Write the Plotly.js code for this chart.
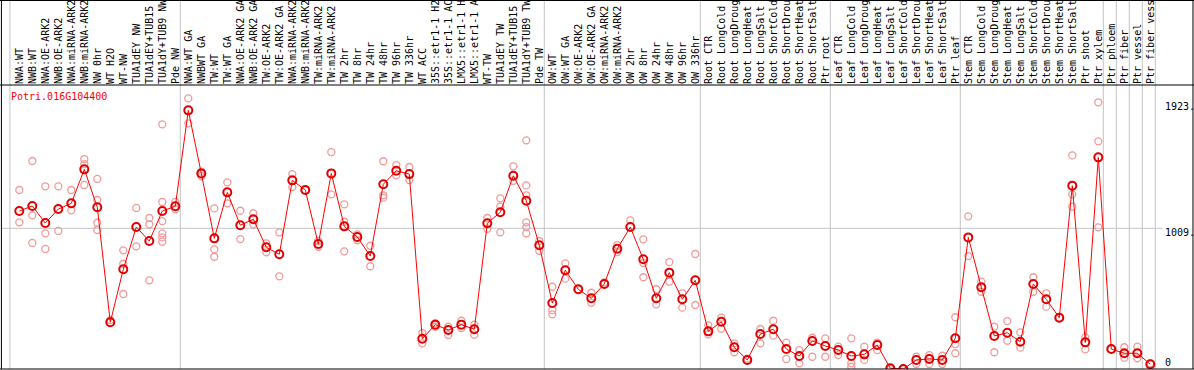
<!DOCTYPE html>
<html>
<head>
<meta charset="utf-8">
<script src="https://cdn.plot.ly/plotly-3.0.1.min.js"></script>
<style>html,body{margin:0;padding:0;background:#fff;}#chart{width:1194px;height:370px;}</style>
</head>
<body>
<div id="chart"></div>
<script>
// ---- data ----
const geneName = "Potri.016G104400";

const categories = [
  "NWA:WT","NWB:WT","NWA:OE-ARK2","NWB:OE-ARK2","NWA:miRNA-ARK2","NWB:miRNA-ARK2","NW 0hr","WT H2O","WT-NW","TUA1dEY NW","TUA1dEY+TUB15","TUA1dY+TUB9 NW","Pde NW",
  "NWA:WT GA","NWBWT GA","TW:WT","TW:WT GA","NWA:OE-ARK2 GA","NWB:OE-ARK2 GA","TW:OE-ARK2","TW:OE-ARK2 GA","NWA:miRNA-ARK2","NWB:miRNA-ARK2","TW:miRNA-ARK2","TW:miRNA-ARK2","TW 2hr","TW 8hr","TW 24hr","TW 48hr","TW 96hr","TW 336hr","WT ACC","35S::etr1-1 H2","35S::etr1-1 AC","LMX5::etr1-1 H","LMX5::etr1-1 A","WT-TW","TUA1dEY TW","TUA1dEY+TUB15","TUA1dY+TUB9 TW","Pde TW",
  "OW:WT","OW:WT GA","OW:OE-ARK2","OW:OE-ARK2 GA","OW:miRNA-ARK2","OW:miRNA-ARK2","OW 2hr","OW 8hr","OW 24hr","OW 48hr","OW 96hr","OW 336hr",
  "Root CTR","Root LongCold","Root LongDroug","Root LongHeat","Root LongSalt","Root ShortCold","Root ShortDrou","Root ShortHeat","Root ShortSalt","Ptr root",
  "Leaf CTR","Leaf LongCold","Leaf LongDroug","Leaf LongHeat","Leaf LongSalt","Leaf ShortCold","Leaf ShortDrou","Leaf ShortHeat","Leaf ShortSalt","Ptr leaf",
  "Stem CTR","Stem LongCold","Stem LongDroug","Stem LongHeat","Stem LongSalt","Stem ShortCold","Stem ShortDrou","Stem ShortHeat","Stem ShortSalt","Ptr shoot","Ptr xylem",
  "Ptr phloem","Ptr fiber","Ptr vessel","Ptr fiber vess"
];

const means = [
  1133,1169,1047,1147,1188,1432,1160,335,715,1018,918,1133,1167,
  1855,1403,937,1267,1031,1074,873,823,1353,1284,896,1403,1023,947,810,1325,1422,1398,217,318,280,318,285,1045,1124,1386,1207,887,
  473,708,572,507,610,863,1018,787,507,691,500,636,
  270,339,156,65,251,285,143,93,201,165,
  136,93,105,172,5,0,65,72,65,220,
  944,586,237,260,196,610,500,368,1315,191,1518,
  143,113,113,34
];

const replicates = [
  [1284,1052],[1492,1102,904],[1310,973,861],[1310,990],[1284,1138],[1506,1470,1320],[1363,1212,1049,997],[351],[851,755,538],[1155,880],[1083,1038,636],[1755,1198,1061,973,913,944],[1198,1145],
  [1941,1762],[1415,1384],[1152,858,805],[1339,1188],[1135,932],[1117,1038],[901,837],[980,665],[1398,1305],[1284],[918,877],[1556,1253],[1181,1056,844],[966,923],[884,737],[1490,1246,1229],[1463,1389],[1449,1355],[258,184],[328,303],[303,244],[346,294],[318,246],[1083,1006],[1224,1164,980],[1454,1350],[1640,1317,1246,1052,1018,973],[918,848],
  [590,423,392],[758,648],[572],[547,475],[622],[889,839],[1066],[930,760,658],[572,464],[767,626],[543,440],[825,459],
  [313,249],[368,289],[184,120],[74],[287,184],[346,239],[189,72],[136,41],[224,88],[220,88],
  [160,100],[220,41,16],[160,65],[189,136],[0],[0],[88,36],[100,36],[95,36],[371,179,113],
  [1095,810],[626,554],[303,120],[344,203],[263,153],[658,554],[543,447],[368],[1532,1253,1164],[227,141],[1913,1633,1016],
  [143],[156,81],[160,77],[41]
];

// index of the last category of each group (a grey separator follows it)
const groupEnds = [12,40,52,62,72,83,84,85,86,87];
const yTickValues = [0,1009,1923];
const yTickLabels = ["0","1009.","1923."];

// ---- build ----
const xIdx = categories.map((_, i) => i);
const repX = [], repY = [];
replicates.forEach((arr, i) => arr.forEach(v => { repX.push(i); repY.push(v); }));

const mono = "DejaVu Sans Mono, Liberation Mono, monospace";
const grey = "#c4c4c4";

const traces = [
  {
    x: repX, y: repY, type: "scatter", mode: "markers",
    marker: {symbol: "circle-open", size: 7, color: "#f09a9a", line: {width: 1.3, color: "#f09a9a"}},
    hoverinfo: "skip"
  },
  {
    x: xIdx, y: means, type: "scatter", mode: "lines+markers",
    line: {color: "#ff0000", width: 1},
    marker: {symbol: "circle-open", size: 8, color: "#e00000", line: {width: 2, color: "#e00000"}}
  }
];

const shapes = [];
// grey separators between sample groups, spanning label area and plot
const sepPositions = [-0.72].concat(groupEnds.map(e => e + 0.385));
sepPositions.forEach(p => shapes.push({
  type: "line", xref: "x", yref: "paper", x0: p, x1: p, y0: 0, y1: 1.3,
  line: {color: grey, width: 1}, layer: "below"
}));
// grey horizontal gridline at the middle tick
shapes.push({type: "line", xref: "paper", yref: "y", x0: 0, x1: 1, y0: yTickValues[1], y1: yTickValues[1],
  line: {color: grey, width: 1}, layer: "below"});
// black frame lines
const frame = {color: "#000", width: 1};
shapes.push({type: "line", xref: "paper", yref: "paper", x0: -0.002, x1: 1.03, y0: 1, y1: 1, line: frame});
shapes.push({type: "line", xref: "paper", yref: "paper", x0: -0.002, x1: 1.03, y0: 1.2975, y1: 1.2975, line: frame});
shapes.push({type: "line", xref: "paper", yref: "paper", x0: -0.002, x1: 1.03, y0: 0, y1: 0, line: frame});
shapes.push({type: "line", xref: "paper", yref: "paper", x0: -0.0005, x1: -0.0005, y0: 0, y1: 1.3, line: frame});
shapes.push({type: "line", xref: "paper", yref: "paper", x0: 1.0267, x1: 1.0267, y0: 0, y1: 1.3, line: frame});

const yShifts = [7, -4, -6];
const annotations = yTickValues.map((v, i) => ({
  xref: "paper", yref: "y", x: 1.0009, y: v, xanchor: "left", yanchor: "middle",
  yshift: yShifts[i], text: yTickLabels[i], showarrow: false,
  font: {family: mono, size: 10, color: "#000"}
}));
annotations.push({
  xref: "paper", yref: "paper", x: 0.0064, y: 0.958, xanchor: "left", yanchor: "middle",
  text: geneName, showarrow: false, font: {family: mono, size: 10, color: "#ff0000"}
});

const layout = {
  width: 1194, height: 370,
  margin: {l: 2, r: 32, t: 85, b: 1, pad: 0},
  paper_bgcolor: "#fff", plot_bgcolor: "#fff",
  showlegend: false,
  xaxis: {
    range: [-1.331, 87.9], side: "top", tickmode: "array", tickvals: xIdx, ticktext: categories,
    tickangle: -90, ticks: "", showgrid: false, zeroline: false, showline: false,
    tickfont: {family: mono, size: 10, color: "#000"}, fixedrange: true
  },
  yaxis: {
    range: [0, 2037], showticklabels: false, ticks: "", showgrid: false, zeroline: false,
    showline: false, fixedrange: true
  },
  shapes: shapes,
  annotations: annotations
};

Plotly.newPlot("chart", traces, layout, {staticPlot: true, displayModeBar: false});
</script>
</body>
</html>
